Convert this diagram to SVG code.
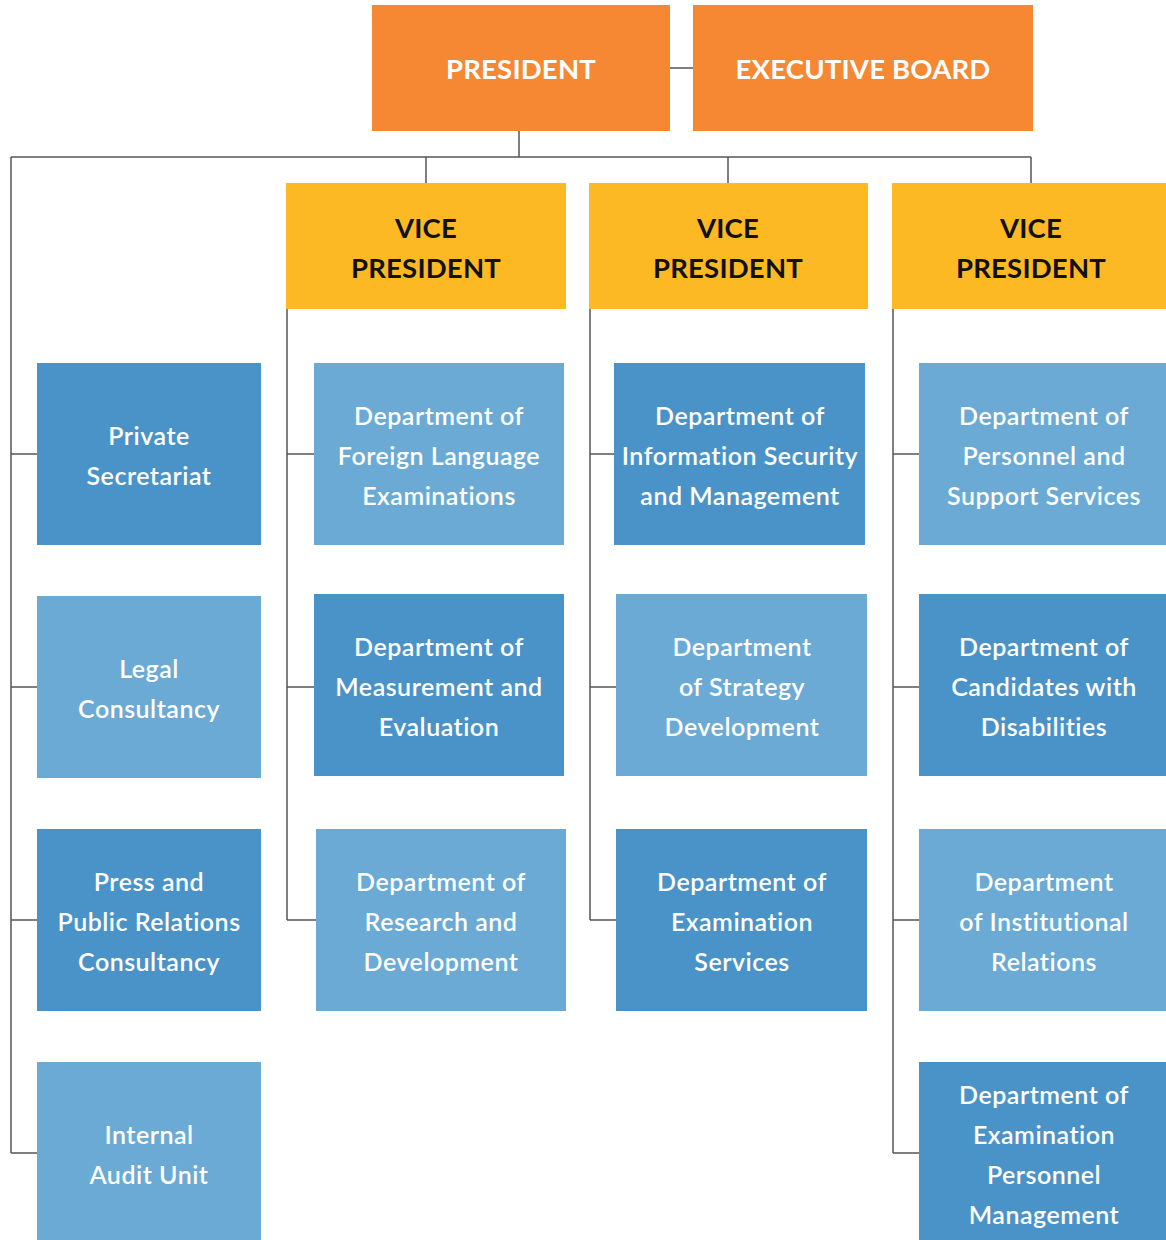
<svg xmlns="http://www.w3.org/2000/svg" width="1166" height="1240" viewBox="0 0 1166 1240">
<style>
.or{fill:#f68834}
.ye{fill:#fdb924}
.dk{fill:#4a93c8}
.lt{fill:#6aaad5}
.t{font-family:Lato,"Open Sans",sans-serif;font-weight:600;font-size:25px;letter-spacing:0.5px;fill:#ffffff;text-anchor:middle}
.h{font-family:Lato,"Open Sans",sans-serif;font-weight:700;font-size:27.5px;letter-spacing:0.2px;text-anchor:middle}
.w{fill:#ffffff}
.k{fill:#111111}
.ln{stroke:#555555;stroke-width:1.5;fill:none}
</style>
<g id="connectors" class="ln">
<path d="M670 68H693"/>
<path d="M519 131V157"/>
<path d="M11 157H1031"/>
<path d="M426 157V183M728 157V183M1031 157V183"/>
<path d="M11 157V1153"/>
<path d="M11 454H37M11 687H37M11 920H37M11 1153H37"/>
<path d="M287 309V920"/>
<path d="M287 454H314M287 687H314M287 920H316"/>
<path d="M590 309V920"/>
<path d="M590 454H614M590 687H616M590 920H616"/>
<path d="M893 309V1153"/>
<path d="M893 454H919M893 687H919M893 920H919M893 1153H919"/>
</g>
<g id="president"><rect class="or" x="372" y="5" width="298" height="126"/><text class="h w" x="521" y="79">PRESIDENT</text></g>
<g id="executive-board"><rect class="or" x="693" y="5" width="340" height="126"/><text class="h w" x="863" y="79">EXECUTIVE BOARD</text></g>
<g id="vp1"><rect class="ye" x="286" y="183" width="280" height="126"/><text class="h k" x="426" y="238">VICE</text><text class="h k" x="426" y="278">PRESIDENT</text></g>
<g id="vp2"><rect class="ye" x="589" y="183" width="279" height="126"/><text class="h k" x="728" y="238">VICE</text><text class="h k" x="728" y="278">PRESIDENT</text></g>
<g id="vp3"><rect class="ye" x="892" y="183" width="274" height="126"/><text class="h k" x="1031" y="238">VICE</text><text class="h k" x="1031" y="278">PRESIDENT</text></g>

<g id="private-secretariat"><rect class="dk" x="37" y="363" width="224" height="182"/><text class="t" x="149" y="445">Private</text><text class="t" x="149" y="485">Secretariat</text></g>
<g id="legal-consultancy"><rect class="lt" x="37" y="596" width="224" height="182"/><text class="t" x="149" y="678">Legal</text><text class="t" x="149" y="718">Consultancy</text></g>
<g id="press"><rect class="dk" x="37" y="829" width="224" height="182"/><text class="t" x="149" y="891">Press and</text><text class="t" x="149" y="931">Public Relations</text><text class="t" x="149" y="971">Consultancy</text></g>
<g id="internal-audit"><rect class="lt" x="37" y="1062" width="224" height="182"/><text class="t" x="149" y="1144">Internal</text><text class="t" x="149" y="1184">Audit Unit</text></g>

<g id="foreign-language"><rect class="lt" x="314" y="363" width="250" height="182"/><text class="t" x="439" y="425">Department of</text><text class="t" x="439" y="465">Foreign Language</text><text class="t" x="439" y="505">Examinations</text></g>
<g id="measurement"><rect class="dk" x="314" y="594" width="250" height="182"/><text class="t" x="439" y="656">Department of</text><text class="t" x="439" y="696">Measurement and</text><text class="t" x="439" y="736">Evaluation</text></g>
<g id="research"><rect class="lt" x="316" y="829" width="250" height="182"/><text class="t" x="441" y="891">Department of</text><text class="t" x="441" y="931">Research and</text><text class="t" x="441" y="971">Development</text></g>

<g id="info-security"><rect class="dk" x="614" y="363" width="251" height="182"/><text class="t" x="740" y="425">Department of</text><text class="t" x="740" y="465">Information Security</text><text class="t" x="740" y="505">and Management</text></g>
<g id="strategy"><rect class="lt" x="616" y="594" width="251" height="182"/><text class="t" x="742" y="656">Department</text><text class="t" x="742" y="696">of Strategy</text><text class="t" x="742" y="736">Development</text></g>
<g id="exam-services"><rect class="dk" x="616" y="829" width="251" height="182"/><text class="t" x="742" y="891">Department of</text><text class="t" x="742" y="931">Examination</text><text class="t" x="742" y="971">Services</text></g>

<g id="personnel"><rect class="lt" x="919" y="363" width="247" height="182"/><text class="t" x="1044" y="425">Department of</text><text class="t" x="1044" y="465">Personnel and</text><text class="t" x="1044" y="505">Support Services</text></g>
<g id="disabilities"><rect class="dk" x="919" y="594" width="247" height="182"/><text class="t" x="1044" y="656">Department of</text><text class="t" x="1044" y="696">Candidates with</text><text class="t" x="1044" y="736">Disabilities</text></g>
<g id="institutional"><rect class="lt" x="919" y="829" width="247" height="182"/><text class="t" x="1044" y="891">Department</text><text class="t" x="1044" y="931">of Institutional</text><text class="t" x="1044" y="971">Relations</text></g>
<g id="exam-personnel"><rect class="dk" x="919" y="1062" width="247" height="182"/><text class="t" x="1044" y="1104">Department of</text><text class="t" x="1044" y="1144">Examination</text><text class="t" x="1044" y="1184">Personnel</text><text class="t" x="1044" y="1224">Management</text></g>
</svg>
